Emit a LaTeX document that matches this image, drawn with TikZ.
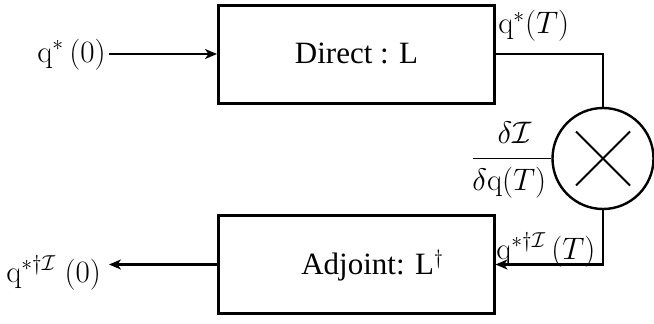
\documentclass[tikz,border=0pt]{standalone}
\usepackage[no-math]{fontspec}
\setmainfont{Liberation Serif}
\usetikzlibrary{arrows.meta}
\begin{document}
\begin{tikzpicture}[x=1pt,y=-1pt,
  every node/.style={inner sep=0pt},
  mathlabel/.style={font=\LARGE, scale=1.8, anchor=base west},
  boxtext/.style={font=\fontsize{31}{36}\selectfont, anchor=base},
  blockbox/.style={draw, line width=3pt, minimum width=276pt, minimum height=98pt},
  conn/.style={line width=2.6pt},
  arr/.style={conn, -{Stealth[length=12pt,width=10pt,inset=3.5pt]}},
  mult/.style={draw, circle, line width=2.4pt, minimum size=101pt}]
\useasboundingbox (0,0) rectangle (654,324);
\node[blockbox] (direct) at (356.5,54) {};
\node[boxtext] at (356.5,63) {Direct : L};
\node[blockbox] (adjoint) at (356,264.5) {};
\node[boxtext] at (372.5,274) {Adjoint: L$^{\dagger}$};
\node[mult] (mul) at (603,158.5) {};
\draw[line width=2pt] ([shift={(-27,-27)}]mul.center) -- ([shift={(27,27)}]mul.center);
\draw[line width=2pt] ([shift={(-27,27)}]mul.center) -- ([shift={(27,-27)}]mul.center);
% input
\node[mathlabel] (qin) at (37,62) {$\mathrm{q}^{*}\,(0)$};
\coordinate (inS) at (109,54);
\draw[arr] (inS) -- (direct.west);
% output
\node[mathlabel] (qout) at (6,282) {$\mathrm{q}^{*\dagger\mathcal{I}}\;(0)$};
\coordinate (outE) at (109,264.5);
\draw[arr] (adjoint.west) -- (outE);
% right side
\coordinate (tr) at (603,54);
\draw[conn] (direct.east) -- (tr) -- (mul.north);
\coordinate (br) at (603,264.5);
\draw[arr] (mul.south) -- (br) -- (adjoint.east);
\node[mathlabel] (qT) at (498,34) {$\mathrm{q}^{*}(T)$};
\node[mathlabel] (qaT) at (496,259) {$\mathrm{q}^{*\dagger\mathcal{I}}\,(T)$};
% fraction
\coordinate (fl) at (473,158.5);
\draw[line width=1.8pt] (fl) -- (mul.west);
\node[mathlabel, anchor=base] (num) at (514.5,143) {$\delta\mathcal{I}$};
\node[mathlabel] (den) at (472,190) {$\delta\mathrm{q}(T)$};
\end{tikzpicture}
\end{document}
